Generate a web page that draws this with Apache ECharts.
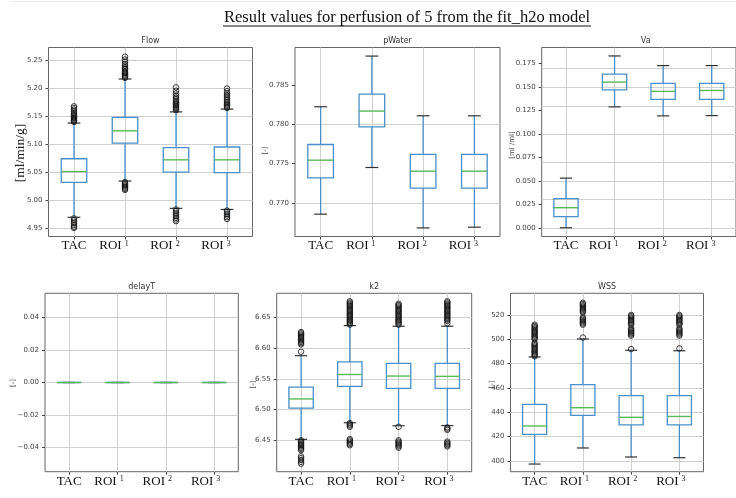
<!DOCTYPE html>
<html>
<head>
<meta charset="utf-8">
<script src="https://cdn.jsdelivr.net/npm/echarts@6/dist/echarts.min.js"></script>
<style>
  html, body { margin: 0; padding: 0; background: #fff; }
  #chart { width: 736px; height: 498px; }
</style>
</head>
<body>
<div id="chart"></div>
<script>
// ---- data -------------------------------------------------------------
const categories = ['TAC', 'ROI 1', 'ROI 2', 'ROI 3'];
const mainTitle = 'Result values for perfusion of 5 from the fit_h2o model';

// five-number summaries: [lower whisker, Q1, median, Q3, upper whisker]
const flowStats = [
  [4.969, 5.0315, 5.051, 5.074, 5.138],
  [5.034, 5.102, 5.124, 5.148, 5.217],
  [4.985, 5.050, 5.072, 5.094, 5.158],
  [4.983, 5.049, 5.072, 5.095, 5.163]
];
const flowOutliers = [
  [5.140, 5.142, 5.143, 5.145, 5.147, 5.148, 5.150, 5.152, 5.154, 5.156, 5.159, 5.162, 5.165, 5.168,
   4.967, 4.964, 4.961, 4.958, 4.955, 4.952, 4.950],
  [5.219, 5.221, 5.223, 5.225, 5.227, 5.229, 5.231, 5.234, 5.236, 5.238, 5.241, 5.244, 5.248, 5.252, 5.257,
   5.032, 5.030, 5.028, 5.026, 5.024, 5.022, 5.020, 5.018],
  [5.161, 5.163, 5.165, 5.167, 5.169, 5.171, 5.173, 5.175, 5.178, 5.181, 5.184, 5.187, 5.191, 5.196, 5.202,
   4.983, 4.980, 4.977, 4.974, 4.971, 4.968, 4.965, 4.962],
  [5.165, 5.167, 5.169, 5.171, 5.173, 5.176, 5.179, 5.182, 5.185, 5.188, 5.191, 5.195, 5.200,
   4.981, 4.978, 4.975, 4.972, 4.969, 4.966]
];
const flowTicks = [4.95, 5.00, 5.05, 5.10, 5.15, 5.20, 5.25];

const pWaterStats = [
  [0.76856, 0.77317, 0.77542, 0.77741, 0.78221],
  [0.77449, 0.77966, 0.78166, 0.78381, 0.78865],
  [0.76681, 0.77187, 0.77402, 0.77615, 0.78106],
  [0.76690, 0.77187, 0.77402, 0.77615, 0.78106]
];
const pWaterOutliers = [[], [], [], []];
const pWaterTicks = [0.770, 0.775, 0.780, 0.785];

const vaStats = [
  [0.000, 0.0118, 0.0214, 0.0311, 0.0529],
  [0.1289, 0.1471, 0.1553, 0.1639, 0.1832],
  [0.1193, 0.1368, 0.1454, 0.1539, 0.1729],
  [0.1196, 0.1368, 0.1464, 0.1539, 0.1729]
];
const vaOutliers = [[], [], [], []];
const vaTicks = [0.000, 0.025, 0.050, 0.075, 0.100, 0.125, 0.150, 0.175];

const delayTStats = [
  [0, 0, 0, 0, 0],
  [0, 0, 0, 0, 0],
  [0, 0, 0, 0, 0],
  [0, 0, 0, 0, 0]
];
const delayTOutliers = [[], [], [], []];
const delayTTicks = [-0.04, -0.02, 0.00, 0.02, 0.04];

const k2Stats = [
  [6.4516, 6.5022, 6.5173, 6.5365, 6.5876],
  [6.4786, 6.5376, 6.5570, 6.5775, 6.6365],
  [6.4737, 6.5345, 6.5545, 6.5750, 6.6355],
  [6.4740, 6.5345, 6.5540, 6.5750, 6.6355]
];
const k2Outliers = [
  [6.594, 6.606, 6.608, 6.610, 6.612, 6.614, 6.616, 6.618, 6.620, 6.622, 6.624, 6.626,
   6.450, 6.448, 6.446, 6.444, 6.442, 6.440, 6.438, 6.436, 6.434,
   6.424, 6.421, 6.418, 6.415, 6.412],
  [6.638, 6.640, 6.642, 6.644, 6.646, 6.648, 6.650, 6.652, 6.654, 6.656, 6.658, 6.660, 6.662, 6.664,
   6.666, 6.668, 6.670, 6.672, 6.674, 6.676,
   6.478, 6.476, 6.474, 6.472,
   6.452, 6.450, 6.448, 6.446, 6.444, 6.442],
  [6.638, 6.640, 6.642, 6.644, 6.646, 6.648, 6.650, 6.652, 6.654, 6.656, 6.658, 6.660, 6.662, 6.664,
   6.666, 6.668, 6.670, 6.672,
   6.472,
   6.450, 6.448, 6.446, 6.444, 6.442, 6.440, 6.438],
  [6.640, 6.644, 6.646, 6.648, 6.650, 6.652, 6.654, 6.656, 6.658, 6.660, 6.662, 6.664, 6.666, 6.668,
   6.670, 6.672, 6.674, 6.676,
   6.471, 6.469, 6.467,
   6.448, 6.446, 6.444, 6.442, 6.440]
];
const k2Ticks = [6.45, 6.50, 6.55, 6.60, 6.65];

const wssStats = [
  [397.5, 421.9, 428.8, 446.6, 485.5],
  [410.7, 437.5, 443.8, 462.7, 500.3],
  [403.3, 429.6, 435.9, 453.7, 491.0],
  [402.7, 429.6, 436.6, 453.7, 490.6]
];
const wssOutliers = [
  [486, 487, 488, 489, 490, 491, 492, 493, 494, 495, 496, 497,
   500, 501, 502, 503, 504, 505, 506, 507, 508, 509, 510, 511, 512],
  [501.5, 512, 513, 514, 515, 516, 517, 518, 522, 523, 524, 525, 526, 527, 528, 529, 530],
  [492, 503, 504, 505, 506, 507, 508, 509, 512, 513, 514, 515, 516, 517, 518, 519, 520],
  [492.5, 503, 504, 505, 506, 507, 508, 509, 512, 513, 514, 515, 516, 517, 518, 519, 520]
];
const wssTicks = [400, 420, 440, 460, 480, 500, 520];

// ---- panel layout -------------------------------------------------------
// unitPos: centre of the rotated y-axis unit label
const panels = [
  { title: 'Flow',   stats: flowStats,   outliers: flowOutliers,   ticks: flowTicks,   min: 4.9345,  max: 5.2735,  digits: 2,
    unit: '[ml/min/g]', unitSerif: true, unitPos: [20, 153],
    grid: { left: 48.5, top: 47.5, width: 204, height: 189 }, row: 0 },
  { title: 'pWater', stats: pWaterStats, outliers: pWaterOutliers, ticks: pWaterTicks, min: 0.76572, max: 0.78974, digits: 3,
    unit: '[-]', unitPos: [265, 150.5],
    grid: { left: 295, top: 47.5, width: 205, height: 189 }, row: 0 },
  { title: 'Va',     stats: vaStats,     outliers: vaOutliers,     ticks: vaTicks,     min: -0.0093, max: 0.1922,  digits: 3,
    unit: '[ml /ml]', unitPos: [511.7, 145],
    grid: { left: 541.7, top: 47.5, width: 208, height: 189 }, row: 0 },
  { title: 'delayT', stats: delayTStats, outliers: delayTOutliers, ticks: delayTTicks, min: -0.055,  max: 0.055,   digits: 2,
    unit: '[-]', unitPos: [13, 383],
    grid: { left: 45, top: 293.3, width: 193.3, height: 178.4 }, row: 1 },
  { title: 'k2',     stats: k2Stats,     outliers: k2Outliers,     ticks: k2Ticks,     min: 6.399,   max: 6.689,   digits: 2,
    unit: '[-]', unitPos: [253, 384.5],
    grid: { left: 276.7, top: 293.3, width: 195, height: 178.4 }, row: 1 },
  { title: 'WSS',    stats: wssStats,    outliers: wssOutliers,    ticks: wssTicks,    min: 391.2,   max: 537.8,   digits: 0,
    unit: '[-]', unitPos: [491.7, 384.5],
    grid: { left: 510.5, top: 293.3, width: 193, height: 178.4 }, row: 1 }
];

const BOX_COLOR = '#4a8fc9';
const MEDIAN_COLOR = '#5cb85c';
const CAP_COLOR = '#333';
const GRID_COLOR = '#d0d0d0';
const TICK_FONT = 'DejaVu Sans';
const SERIF = 'Liberation Serif';

function fmtTick(v, digits) {
  const s = Math.abs(v).toFixed(digits);
  return (v < 0 ? '\u2212' : '') + s;
}

// box, whiskers, half-width caps and median, all placed through the axes
function renderBox(params, api) {
  const x = api.value(0);
  const lo = api.coord([x, api.value(1)]);
  const q1 = api.coord([x, api.value(2)]);
  const md = api.coord([x, api.value(3)]);
  const q3 = api.coord([x, api.value(4)]);
  const hi = api.coord([x, api.value(5)]);
  const band = api.size([1, 0])[0];
  const half = band * 0.25;
  const cap = band * 0.125;
  const cx = md[0];
  const whisk = { stroke: BOX_COLOR, lineWidth: 1.3 };
  const capStyle = { stroke: CAP_COLOR, lineWidth: 1.2 };
  return {
    type: 'group',
    children: [
      { type: 'line', shape: { x1: cx, y1: q3[1], x2: cx, y2: hi[1] }, style: whisk },
      { type: 'line', shape: { x1: cx, y1: q1[1], x2: cx, y2: lo[1] }, style: whisk },
      { type: 'rect', shape: { x: cx - half, y: q3[1], width: half * 2, height: q1[1] - q3[1] },
        style: { fill: 'none', stroke: BOX_COLOR, lineWidth: 1.3 } },
      { type: 'line', shape: { x1: cx - cap, y1: hi[1], x2: cx + cap, y2: hi[1] }, style: capStyle },
      { type: 'line', shape: { x1: cx - cap, y1: lo[1], x2: cx + cap, y2: lo[1] }, style: capStyle },
      { type: 'line', shape: { x1: cx - half, y1: md[1], x2: cx + half, y2: md[1] },
        style: { stroke: MEDIAN_COLOR, lineWidth: 1.4 } }
    ]
  };
}

const grids = [], xAxes = [], yAxes = [], series = [], titles = [], graphics = [];

titles.push({
  text: mainTitle, left: 407, top: 9, padding: 0, textAlign: 'center',
  textStyle: { fontFamily: SERIF, fontSize: 16.5, fontWeight: 'normal', color: '#111' }
});
graphics.push(
  { type: 'line', shape: { x1: 10, y1: 1.5, x2: 736, y2: 1.5 }, style: { stroke: '#ececec', lineWidth: 1 } },
  { type: 'line', shape: { x1: 223, y1: 26, x2: 591, y2: 26 }, style: { stroke: '#111', lineWidth: 1 } }
);

panels.forEach((p, i) => {
  grids.push(Object.assign({ show: true, borderColor: '#666', borderWidth: 1,
    backgroundColor: 'transparent', containLabel: false }, p.grid));

  titles.push({
    text: p.title, left: p.grid.left + p.grid.width / 2, top: p.grid.top - 10.5, padding: 0,
    textAlign: 'center',
    textStyle: { fontFamily: TICK_FONT, fontSize: 8, fontWeight: 'normal', color: '#333' }
  });

  // rotated unit label beside the y axis
  graphics.push({
    type: 'text', x: p.unitPos[0], y: p.unitPos[1], rotation: Math.PI / 2, silent: true,
    style: Object.assign({ text: p.unit, align: 'center', verticalAlign: 'middle' },
      p.unitSerif
        ? { font: '13.5px "Liberation Serif"', fill: '#222' }
        : { font: '7px "DejaVu Sans"', fill: '#444' })
  });

  const pad = p.row === 0 ? 22 : 17;
  xAxes.push({
    type: 'category', gridIndex: i, data: categories, boundaryGap: true,
    axisLine: { show: false, onZero: false },
    axisTick: { show: true, alignWithLabel: true, length: 3, lineStyle: { color: '#444' } },
    splitLine: { show: false },
    axisLabel: {
      interval: 0, margin: 3,
      formatter: (v) => {
        if (v === 'TAC') return '{m|TAC}';
        const parts = v.split(' ');
        return '{m|' + parts[0] + '}{s|' + parts[1] + '}{p|}';
      },
      rich: {
        m: { fontFamily: SERIF, fontSize: 13, color: '#111' },
        s: { fontFamily: SERIF, fontSize: 8, color: '#222', verticalAlign: 'top', padding: [0, 0, 0, 3] },
        p: { width: pad }
      }
    }
  });

  yAxes.push({
    type: 'value', gridIndex: i, min: p.min, max: p.max, scale: true,
    axisLine: { show: false, onZero: false },
    axisTick: { show: true, length: 3, customValues: p.ticks, lineStyle: { color: '#444' } },
    axisLabel: {
      customValues: p.ticks, margin: 6,
      fontFamily: TICK_FONT, fontSize: 7, color: '#444',
      formatter: (v) => fmtTick(v, p.digits)
    },
    splitLine: { show: false }
  });

  // grid lines at every y tick and at every category centre
  const gridLines = p.ticks.map((t) => ({ yAxis: t }))
    .concat(categories.map((c) => ({ xAxis: c })));
  series.push({
    type: 'scatter', name: p.title + ' grid', xAxisIndex: i, yAxisIndex: i,
    data: [], silent: true, z: 1,
    markLine: {
      silent: true, z: 1, symbol: ['none', 'none'], animation: false,
      label: { show: false },
      lineStyle: { color: GRID_COLOR, width: 1, type: 'solid' },
      emphasis: { disabled: true },
      data: gridLines
    }
  });

  series.push({
    type: 'custom', name: p.title + ' box', xAxisIndex: i, yAxisIndex: i,
    renderItem: renderBox, encode: { x: 0, y: [1, 2, 3, 4, 5] },
    data: p.stats.map((s, k) => [k].concat(s)), z: 3, silent: true
  });

  const flierData = [];
  p.outliers.forEach((arr, k) => arr.forEach((v) => flierData.push([k, v])));
  series.push({
    type: 'scatter', name: p.title + ' outliers', xAxisIndex: i, yAxisIndex: i,
    data: flierData, symbol: 'circle', symbolSize: 5.5, z: 4, silent: true,
    itemStyle: { color: 'rgba(255,255,255,0)', borderColor: '#111', borderWidth: 1 }
  });
});

const chart = echarts.init(document.getElementById('chart'), null, { renderer: 'canvas' });
chart.setOption({
  backgroundColor: '#fff',
  animation: false,
  title: titles,
  grid: grids,
  xAxis: xAxes,
  yAxis: yAxes,
  series: series,
  graphic: graphics
});
</script>
</body>
</html>
